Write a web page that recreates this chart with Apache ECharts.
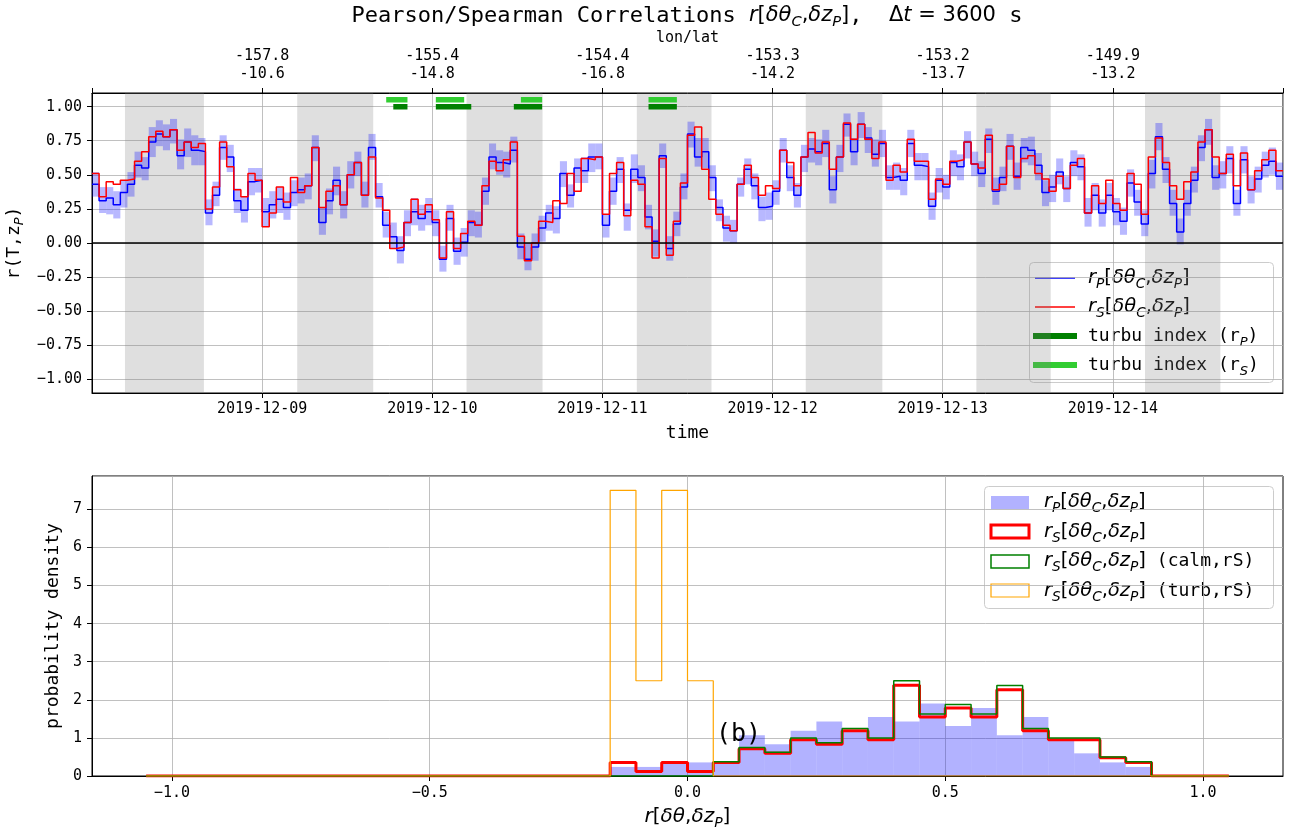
<!DOCTYPE html>
<html>
<head>
<meta charset="utf-8" />
<title>Pearson/Spearman Correlations</title>
<script src="https://cdn.jsdelivr.net/npm/echarts@6.0.0/dist/echarts.min.js"></script>
<style>
  html, body { margin: 0; padding: 0; background: #fff; }
  #main { width: 1290px; height: 829px; }
</style>
</head>
<body>
<div id="main"></div>
<script>
// hourly correlations from 2019-12-08 00:00 UTC (168 hours)
const startTime = Date.UTC(2019, 11, 8)
const HOUR = 3600 * 1000
const DAY = 24 * HOUR

// Pearson r_P
const rP = [
  0.43, 0.31, 0.33, 0.28, 0.37, 0.43, 0.57, 0.55, 0.74, 0.80, 0.78, 0.83, 0.64, 0.74, 0.68, 0.67, 0.22, 0.35, 0.70, 0.63, 0.31, 0.24, 0.45, 0.46,
  0.23, 0.28, 0.32, 0.26, 0.37, 0.39, 0.42, 0.70, 0.15, 0.31, 0.46, 0.28, 0.50, 0.59, 0.35, 0.70, 0.34, 0.13, 0.045, -0.055, 0.15, 0.23, 0.18, 0.23,
  0.15, -0.12, 0.18, -0.06, 0.005, 0.15, 0.13, 0.38, 0.63, 0.59, 0.58, 0.68, -0.03, -0.12, -0.03, 0.11, 0.22, 0.18, 0.51, 0.35, 0.55, 0.53, 0.63, 0.63,
  0.13, 0.38, 0.54, 0.24, 0.54, 0.48, 0.19, 0.012, 0.64, -0.04, 0.14, 0.41, 0.80, 0.63, 0.67, 0.48, 0.26, 0.11, 0.09, 0.43, 0.54, 0.42, 0.26, 0.27,
  0.38, 0.68, 0.48, 0.35, 0.63, 0.69, 0.67, 0.73, 0.39, 0.63, 0.87, 0.67, 0.87, 0.77, 0.65, 0.73, 0.48, 0.49, 0.46, 0.73, 0.57, 0.56, 0.27, 0.46,
  0.41, 0.59, 0.56, 0.74, 0.58, 0.51, 0.76, 0.38, 0.48, 0.71, 0.49, 0.70, 0.68, 0.57, 0.37, 0.41, 0.52, 0.40, 0.59, 0.56, 0.22, 0.35, 0.22, 0.35,
  0.23, 0.16, 0.44, 0.30, 0.14, 0.51, 0.78, 0.54, 0.29, 0.08, 0.29, 0.46, 0.70, 0.83, 0.48, 0.51, 0.62, 0.29, 0.61, 0.39, 0.47, 0.57, 0.60, 0.49
]
// Spearman r_S
const rS = [
  0.51, 0.34, 0.45, 0.43, 0.46, 0.47, 0.60, 0.67, 0.78, 0.82, 0.78, 0.83, 0.68, 0.74, 0.70, 0.73, 0.25, 0.41, 0.74, 0.56, 0.39, 0.34, 0.51, 0.46,
  0.12, 0.22, 0.41, 0.30, 0.48, 0.37, 0.42, 0.70, 0.26, 0.38, 0.42, 0.28, 0.50, 0.59, 0.35, 0.63, 0.33, 0.24, -0.04, -0.03, 0.15, 0.32, 0.21, 0.28,
  0.17, -0.11, 0.23, -0.04, 0.07, 0.16, 0.13, 0.42, 0.60, 0.53, 0.61, 0.74, 0.05, -0.13, 0.00, 0.16, 0.15, 0.31, 0.29, 0.51, 0.38, 0.62, 0.61, 0.63,
  0.21, 0.51, 0.59, 0.20, 0.46, 0.43, 0.12, -0.11, 0.62, -0.09, 0.16, 0.44, 0.79, 0.85, 0.54, 0.32, 0.21, 0.13, 0.09, 0.43, 0.57, 0.48, 0.35, 0.42,
  0.40, 0.68, 0.59, 0.42, 0.63, 0.81, 0.66, 0.74, 0.54, 0.63, 0.88, 0.76, 0.87, 0.76, 0.62, 0.74, 0.46, 0.57, 0.52, 0.76, 0.60, 0.60, 0.32, 0.47,
  0.43, 0.60, 0.61, 0.74, 0.58, 0.55, 0.79, 0.39, 0.43, 0.71, 0.48, 0.62, 0.64, 0.51, 0.47, 0.38, 0.49, 0.40, 0.57, 0.62, 0.22, 0.42, 0.29, 0.46,
  0.29, 0.24, 0.51, 0.43, 0.21, 0.63, 0.77, 0.59, 0.42, 0.32, 0.45, 0.52, 0.74, 0.83, 0.63, 0.51, 0.65, 0.42, 0.66, 0.39, 0.53, 0.61, 0.68, 0.53
]
// uncertainty range of r_P
const rPLow = [
  0.34, 0.22, 0.21, 0.18, 0.26, 0.34, 0.48, 0.46, 0.63, 0.71, 0.68, 0.73, 0.54, 0.63, 0.57, 0.57, 0.13, 0.27, 0.61, 0.52, 0.22, 0.15, 0.35, 0.37,
  0.12, 0.18, 0.22, 0.17, 0.27, 0.29, 0.32, 0.60, 0.06, 0.21, 0.35, 0.18, 0.40, 0.49, 0.26, 0.61, 0.26, 0.04, -0.04, -0.15, 0.05, 0.13, 0.09, 0.13,
  0.05, -0.21, 0.09, -0.16, -0.10, 0.05, 0.04, 0.28, 0.54, 0.50, 0.48, 0.59, -0.12, -0.20, -0.13, 0.01, 0.09, 0.07, 0.41, 0.26, 0.44, 0.44, 0.52, 0.54,
  0.04, 0.28, 0.44, 0.09, 0.44, 0.38, 0.10, -0.10, 0.55, -0.13, 0.05, 0.32, 0.70, 0.56, 0.55, 0.38, 0.16, 0.01, 0.00, 0.34, 0.43, 0.32, 0.16, 0.17,
  0.28, 0.59, 0.38, 0.26, 0.52, 0.59, 0.57, 0.63, 0.29, 0.52, 0.78, 0.57, 0.77, 0.66, 0.56, 0.63, 0.39, 0.39, 0.35, 0.63, 0.46, 0.46, 0.17, 0.37,
  0.32, 0.49, 0.46, 0.62, 0.49, 0.41, 0.66, 0.28, 0.38, 0.61, 0.39, 0.59, 0.57, 0.46, 0.27, 0.30, 0.43, 0.30, 0.49, 0.46, 0.12, 0.24, 0.12, 0.24,
  0.13, 0.06, 0.34, 0.20, 0.05, 0.40, 0.68, 0.44, 0.20, -0.01, 0.20, 0.37, 0.60, 0.72, 0.39, 0.40, 0.51, 0.20, 0.51, 0.29, 0.37, 0.48, 0.50, 0.39
]
const rPHigh = [
  0.52, 0.41, 0.41, 0.38, 0.46, 0.52, 0.67, 0.63, 0.85, 0.90, 0.87, 0.91, 0.76, 0.84, 0.79, 0.77, 0.32, 0.45, 0.79, 0.72, 0.40, 0.34, 0.55, 0.55,
  0.33, 0.38, 0.41, 0.37, 0.46, 0.48, 0.51, 0.79, 0.26, 0.40, 0.56, 0.38, 0.60, 0.67, 0.45, 0.80, 0.44, 0.23, 0.15, 0.05, 0.24, 0.33, 0.28, 0.33,
  0.24, -0.02, 0.28, 0.04, 0.11, 0.24, 0.23, 0.48, 0.73, 0.68, 0.67, 0.78, 0.07, 0.00, 0.07, 0.20, 0.28, 0.27, 0.60, 0.43, 0.62, 0.63, 0.73, 0.73,
  0.21, 0.48, 0.63, 0.29, 0.65, 0.57, 0.28, 0.10, 0.73, 0.05, 0.23, 0.51, 0.89, 0.77, 0.77, 0.57, 0.32, 0.20, 0.17, 0.48, 0.62, 0.51, 0.34, 0.37,
  0.46, 0.77, 0.57, 0.44, 0.72, 0.77, 0.76, 0.83, 0.49, 0.72, 0.95, 0.77, 0.96, 0.85, 0.76, 0.83, 0.57, 0.59, 0.55, 0.83, 0.66, 0.66, 0.37, 0.55,
  0.50, 0.68, 0.65, 0.82, 0.67, 0.60, 0.84, 0.48, 0.56, 0.80, 0.59, 0.77, 0.78, 0.66, 0.46, 0.50, 0.62, 0.49, 0.68, 0.65, 0.33, 0.44, 0.32, 0.44,
  0.33, 0.26, 0.54, 0.39, 0.24, 0.61, 0.88, 0.63, 0.39, 0.18, 0.39, 0.56, 0.79, 0.91, 0.57, 0.60, 0.71, 0.39, 0.71, 0.49, 0.56, 0.67, 0.70, 0.59
]

// hours flagged as turbulent, and the level where the flag is drawn
const turbHoursP = [43, 49, 51, 52, 60, 61, 62, 79, 81]
const turbHoursS = [42, 43, 49, 51, 61, 62, 79, 81]
const turbLevelP = 1.0
const turbLevelS = 1.05

// night time shading
const nightBands = [
  ['2019-12-08T04:39:00Z', '2019-12-08T15:47:00Z'],
  ['2019-12-09T04:57:00Z', '2019-12-09T15:40:00Z'],
  ['2019-12-10T04:50:00Z', '2019-12-10T15:33:00Z'],
  ['2019-12-11T04:51:00Z', '2019-12-11T15:23:00Z'],
  ['2019-12-12T04:41:00Z', '2019-12-12T15:29:00Z'],
  ['2019-12-13T04:45:00Z', '2019-12-13T15:14:00Z'],
  ['2019-12-14T04:32:00Z', '2019-12-14T15:10:00Z']
]

// top axis: position at 00:00 of 12-09 ... 12-14
const lonTicks = ['-157.8', '-155.4', '-154.4', '-153.3', '-153.2', '-149.9']
const latTicks = ['-10.6', '-14.8', '-16.8', '-14.2', '-13.7', '-13.2']

// histograms, left bin edges (bin width 0.05)
const binWidth = 0.05
const binEdges = [
  -1.05, -1.0, -0.95, -0.9, -0.85, -0.8, -0.75, -0.7, -0.65, -0.6, -0.55, -0.5, -0.45, -0.4,
  -0.35, -0.3, -0.25, -0.2, -0.15, -0.1, -0.05, 0, 0.05, 0.1, 0.15, 0.2, 0.25, 0.3,
  0.35, 0.4, 0.45, 0.5, 0.55, 0.6, 0.65, 0.7, 0.75, 0.8, 0.85, 0.9, 0.95, 1.0
]
const histP = [
  0, 0, 0, 0, 0, 0, 0, 0, 0, 0, 0, 0, 0, 0,
  0, 0, 0, 0, 0.238, 0.238, 0.357, 0.357, 0.357, 1.071, 0.833, 1.190, 1.429, 1.190,
  1.548, 1.429, 1.905, 1.310, 1.786, 1.071, 1.548, 0.952, 0.595, 0.357, 0.238, 0, 0, 0
]
const histS = [
  0, 0, 0, 0, 0, 0, 0, 0, 0, 0, 0, 0, 0, 0,
  0, 0, 0, 0, 0.357, 0.119, 0.357, 0.119, 0.357, 0.714, 0.595, 0.952, 0.833, 1.190,
  0.952, 2.381, 1.548, 1.786, 1.548, 2.262, 1.190, 0.952, 0.952, 0.476, 0.357, 0, 0, 0
]
const histCalm = [
  0, 0, 0, 0, 0, 0, 0, 0, 0, 0, 0, 0, 0, 0,
  0, 0, 0, 0, 0, 0, 0, 0, 0.375, 0.75, 0.625, 1.0, 0.875, 1.25,
  1.0, 2.5, 1.625, 1.875, 1.625, 2.375, 1.25, 1.0, 1.0, 0.5, 0.375, 0, 0, 0
]
const histTurb = [
  0, 0, 0, 0, 0, 0, 0, 0, 0, 0, 0, 0, 0, 0,
  0, 0, 0, 0, 7.5, 2.5, 7.5, 2.5, 0, 0, 0, 0, 0, 0,
  0, 0, 0, 0, 0, 0, 0, 0, 0, 0, 0, 0, 0, 0
]

const yTicksTop = [-1, -0.75, -0.5, -0.25, 0, 0.25, 0.5, 0.75, 1]
const xTicksHist = [-1, -0.5, 0, 0.5, 1]

const MONO = 'DejaVu Sans Mono'
const SANS = 'DejaVu Sans'
const GRID_C = '#b0b0b0'

// mono text of `size`, math text slightly larger (matplotlib mathtext is wider)
function richSet(size, mathSize) {
  const m = mathSize || size
  const s = Math.round(m * 0.7 * 10) / 10
  const lh = Math.round(Math.max(size, m) + 6)
  const base = { fontWeight: 'normal', color: '#000', lineHeight: lh }
  return {
    mono: { ...base, fontFamily: MONO, fontSize: size },
    it: { ...base, fontFamily: SANS, fontStyle: 'italic', fontSize: m },
    up: { ...base, fontFamily: SANS, fontSize: m },
    sub: { ...base, fontFamily: SANS, fontStyle: 'italic', fontSize: s, lineHeight: s, verticalAlign: 'bottom' },
    msub: { ...base, fontFamily: SANS, fontStyle: 'italic', fontSize: Math.round(size * 0.7), lineHeight: Math.round(size * 0.7), verticalAlign: 'bottom' }
  }
}

// r_X[δθ_C,δz_P]
function corrText(x) {
  return '{it|r}{sub|' + x + '}{up|[}{it|δθ}{sub|C}{up|,}{it|δz}{sub|P}{up|]}'
}

const minus = s => String(s).replace('-', '\u2212')

function hourlySteps(vals) {
  const pts = vals.map((v, i) => [startTime + i * HOUR, v])
  pts.push([startTime + vals.length * HOUR, vals[vals.length - 1]])
  return pts
}

function turbSegments(hours, level) {
  const pts = []
  hours.forEach(h => {
    pts.push([startTime + (h - 0.5) * HOUR, level])
    pts.push([startTime + (h + 1.5) * HOUR, level])
    pts.push([startTime + (h + 1.5) * HOUR, '-'])
  })
  return pts
}

function histSteps(vals) {
  const pts = binEdges.map((e, i) => [e, vals[i]])
  pts.push([binEdges[binEdges.length - 1] + binWidth, vals[vals.length - 1]])
  return pts
}

const chart = echarts.init(document.getElementById('main'))

const axisCommon = {
  axisLine: { show: true, onZero: false, lineStyle: { color: '#000', width: 1 } },
  axisTick: { show: true, inside: false, length: 5, lineStyle: { color: '#000', width: 1 } },
  axisLabel: { color: '#000', fontFamily: MONO, fontSize: 15 },
  splitLine: { show: true, lineStyle: { color: GRID_C, width: 0.8 } }
}

const legendRich = richSet(18, 19.5)

const option = {
  animation: false,
  textStyle: { fontFamily: MONO, fontWeight: 'normal' },
  title: {
    text: '{mono|Pearson/Spearman Correlations }{it|r}{up|[}{it|δθ}{sub|C}{up|,}{it|δz}{sub|P}{up|]}{mono|,  }{up|Δ}{it|t}{up| = 3600}{mono| s}',
    left: 687,
    top: 2,
    padding: 0,
    textAlign: 'center',
    textStyle: { fontWeight: 'normal', rich: richSet(22, 21) }
  },
  grid: [
    { left: 92, right: 7, top: 93, height: 300, show: true, borderColor: '#000', borderWidth: 1, outerBoundsMode: 'none', containLabel: false },
    { left: 92, right: 7, top: 476, height: 300, show: true, borderColor: '#000', borderWidth: 1, outerBoundsMode: 'none', containLabel: false }
  ],
  xAxis: [
    {
      ...axisCommon,
      type: 'value', gridIndex: 0, position: 'bottom',
      min: startTime, max: startTime + 7 * DAY, interval: DAY,
      axisLabel: {
        ...axisCommon.axisLabel, margin: 9, showMinLabel: false, showMaxLabel: false,
        formatter: v => new Date(v).toISOString().slice(0, 10)
      },
      name: 'time', nameLocation: 'middle', nameGap: 31,
      nameTextStyle: { fontFamily: MONO, fontSize: 18, color: '#000' }
    },
    {
      ...axisCommon,
      type: 'value', gridIndex: 0, position: 'top',
      min: startTime, max: startTime + 7 * DAY, interval: DAY,
      splitLine: { show: false },
      axisLabel: {
        ...axisCommon.axisLabel, margin: 10, lineHeight: 18,
        formatter: v => {
          const i = Math.round((v - startTime) / DAY) - 1
          return (i >= 0 && i < lonTicks.length) ? lonTicks[i] + '\n' + latTicks[i] : ''
        }
      },
      name: 'lon/lat', nameLocation: 'middle', nameGap: 44,
      nameTextStyle: { fontFamily: MONO, fontSize: 15, color: '#000' }
    },
    {
      ...axisCommon,
      type: 'value', gridIndex: 1, min: -1.155, max: 1.155,
      axisTick: { ...axisCommon.axisTick, customValues: xTicksHist },
      axisLabel: {
        ...axisCommon.axisLabel, margin: 10, customValues: xTicksHist,
        formatter: v => minus(v.toFixed(1))
      },
      name: '{it|r}{up|[}{it|δθ}{up|,}{it|δz}{sub|P}{up|]}', nameLocation: 'middle', nameGap: 28,
      nameTextStyle: { rich: richSet(18, 20) }
    }
  ],
  yAxis: [
    {
      ...axisCommon,
      type: 'value', gridIndex: 0, min: -1.1, max: 1.1,
      axisTick: { ...axisCommon.axisTick, customValues: yTicksTop },
      axisLabel: {
        ...axisCommon.axisLabel, margin: 10, customValues: yTicksTop,
        formatter: v => minus(v.toFixed(2))
      },
      name: '{mono|r(T,z}{msub|P}{mono|)}', nameLocation: 'middle', nameGap: 61, nameRotate: 90,
      nameTextStyle: { rich: richSet(18) }
    },
    {
      ...axisCommon,
      type: 'value', gridIndex: 1, min: 0, max: 7.875, interval: 1,
      axisLabel: { ...axisCommon.axisLabel, margin: 10, showMaxLabel: false, formatter: v => String(v) },
      name: 'probability density', nameLocation: 'middle', nameGap: 25, nameRotate: 90,
      nameTextStyle: { fontFamily: MONO, fontSize: 18, color: '#000' }
    }
  ],
  series: [
    // night shading and zero line
    {
      type: 'line', xAxisIndex: 0, yAxisIndex: 0, data: [], z: 0, silent: true,
      markArea: {
        silent: true,
        itemStyle: { color: 'rgba(128,128,128,0.25)' },
        data: nightBands.map(b => [{ xAxis: Date.parse(b[0]) }, { xAxis: Date.parse(b[1]) }])
      },
      markLine: {
        silent: true, symbol: 'none', label: { show: false },
        lineStyle: { color: '#000', width: 1.5, type: 'solid' },
        data: [{ yAxis: 0 }]
      }
    },
    {
      type: 'custom', name: 'rP range', xAxisIndex: 0, yAxisIndex: 0, z: 1, clip: true,
      data: rP.map((_, i) => [startTime + i * HOUR, rPLow[i], rPHigh[i]]),
      encode: { x: 0, y: [1, 2] },
      renderItem: (params, api) => {
        const t = api.value(0)
        const a = api.coord([t, api.value(2)])
        const b = api.coord([t + HOUR, api.value(1)])
        return {
          type: 'rect',
          shape: { x: a[0], y: a[1], width: b[0] - a[0], height: b[1] - a[1] },
          style: { fill: 'rgba(0,0,255,0.28)' }
        }
      }
    },
    {
      type: 'line', name: 'rP', xAxisIndex: 0, yAxisIndex: 0, z: 3,
      step: 'end', symbol: 'none', data: hourlySteps(rP),
      lineStyle: { color: '#0000ff', width: 1.5 }
    },
    {
      type: 'line', name: 'rS', xAxisIndex: 0, yAxisIndex: 0, z: 4,
      step: 'end', symbol: 'none', data: hourlySteps(rS),
      lineStyle: { color: '#ff0000', width: 1.5 }
    },
    {
      type: 'line', name: 'turbP', xAxisIndex: 0, yAxisIndex: 0, z: 5,
      symbol: 'none', connectNulls: false, data: turbSegments(turbHoursP, turbLevelP),
      lineStyle: { color: '#008000', width: 5.5, cap: 'butt' }
    },
    {
      type: 'line', name: 'turbS', xAxisIndex: 0, yAxisIndex: 0, z: 5,
      symbol: 'none', connectNulls: false, data: turbSegments(turbHoursS, turbLevelS),
      lineStyle: { color: '#32cd32', width: 5.5, cap: 'butt' }
    },
    // histograms
    {
      type: 'custom', name: 'hP', xAxisIndex: 2, yAxisIndex: 1, z: 1,
      data: binEdges.map((e, i) => [e, histP[i]]),
      renderItem: (params, api) => {
        const a = api.coord([api.value(0), api.value(1)])
        const b = api.coord([api.value(0) + binWidth, 0])
        return {
          type: 'rect',
          shape: { x: a[0], y: a[1], width: b[0] - a[0], height: b[1] - a[1] },
          style: { fill: 'rgba(0,0,255,0.3)' }
        }
      }
    },
    {
      type: 'line', name: 'hS', xAxisIndex: 2, yAxisIndex: 1, z: 3,
      step: 'end', symbol: 'none', data: histSteps(histS),
      lineStyle: { color: '#ff0000', width: 3 },
      markPoint: {
        symbol: 'circle', symbolSize: 0,
        data: [{
          coord: [0.099, 1.1],
          label: { show: true, position: 'inside', formatter: '(b)', fontFamily: MONO, fontSize: 25, color: '#000' }
        }]
      }
    },
    {
      type: 'line', name: 'hCalm', xAxisIndex: 2, yAxisIndex: 1, z: 4,
      step: 'end', symbol: 'none', data: histSteps(histCalm),
      lineStyle: { color: '#008000', width: 1.5 }
    },
    {
      type: 'line', name: 'hTurb', xAxisIndex: 2, yAxisIndex: 1, z: 5,
      step: 'end', symbol: 'none', data: histSteps(histTurb),
      lineStyle: { color: '#ffa500', width: 1.2 }
    }
  ],
  graphic: [
    // legend of the time series panel
    {
      type: 'group', z: 100, children: [
        { type: 'rect', shape: { x: 1029.5, y: 262.5, width: 244, height: 120, r: 4 },
          style: { fill: 'rgba(255,255,255,0.8)', stroke: '#cccccc', lineWidth: 1 } },
        { type: 'line', shape: { x1: 1035, y1: 278, x2: 1075, y2: 278 }, style: { stroke: '#0000ff', lineWidth: 1.5 } },
        { type: 'line', shape: { x1: 1035, y1: 307, x2: 1075, y2: 307 }, style: { stroke: '#ff0000', lineWidth: 1.5 } },
        { type: 'line', shape: { x1: 1033, y1: 336, x2: 1077, y2: 336 }, style: { stroke: '#008000', lineWidth: 6 } },
        { type: 'line', shape: { x1: 1033, y1: 365, x2: 1077, y2: 365 }, style: { stroke: '#32cd32', lineWidth: 6 } },
        { type: 'text', x: 1088, y: 278, style: { text: corrText('P'), rich: legendRich, verticalAlign: 'middle' } },
        { type: 'text', x: 1088, y: 307, style: { text: corrText('S'), rich: legendRich, verticalAlign: 'middle' } },
        { type: 'text', x: 1088, y: 336, style: { text: '{mono|turbu index (r}{msub|P}{mono|)}', rich: legendRich, verticalAlign: 'middle' } },
        { type: 'text', x: 1088, y: 365, style: { text: '{mono|turbu index (r}{msub|S}{mono|)}', rich: legendRich, verticalAlign: 'middle' } }
      ]
    },
    // legend of the histogram panel
    {
      type: 'group', z: 100, children: [
        { type: 'rect', shape: { x: 984.5, y: 486.5, width: 289, height: 122, r: 4 },
          style: { fill: 'rgba(255,255,255,0.8)', stroke: '#cccccc', lineWidth: 1 } },
        { type: 'rect', shape: { x: 991, y: 496, width: 38, height: 13 }, style: { fill: 'rgba(0,0,255,0.3)' } },
        { type: 'rect', shape: { x: 991, y: 525, width: 38, height: 13 }, style: { fill: '#fff', stroke: '#ff0000', lineWidth: 3 } },
        { type: 'rect', shape: { x: 991, y: 555, width: 38, height: 13 }, style: { fill: '#fff', stroke: '#008000', lineWidth: 1.5 } },
        { type: 'rect', shape: { x: 991, y: 584, width: 38, height: 13 }, style: { fill: '#fff', stroke: '#ffa500', lineWidth: 1.2 } },
        { type: 'text', x: 1044, y: 502, style: { text: corrText('P'), rich: legendRich, verticalAlign: 'middle' } },
        { type: 'text', x: 1044, y: 532, style: { text: corrText('S'), rich: legendRich, verticalAlign: 'middle' } },
        { type: 'text', x: 1044, y: 561, style: { text: corrText('S') + '{mono| (calm,rS)}', rich: legendRich, verticalAlign: 'middle' } },
        { type: 'text', x: 1044, y: 591, style: { text: corrText('S') + '{mono| (turb,rS)}', rich: legendRich, verticalAlign: 'middle' } }
      ]
    }
  ]
}

chart.setOption(option)
</script>
</body>
</html>
